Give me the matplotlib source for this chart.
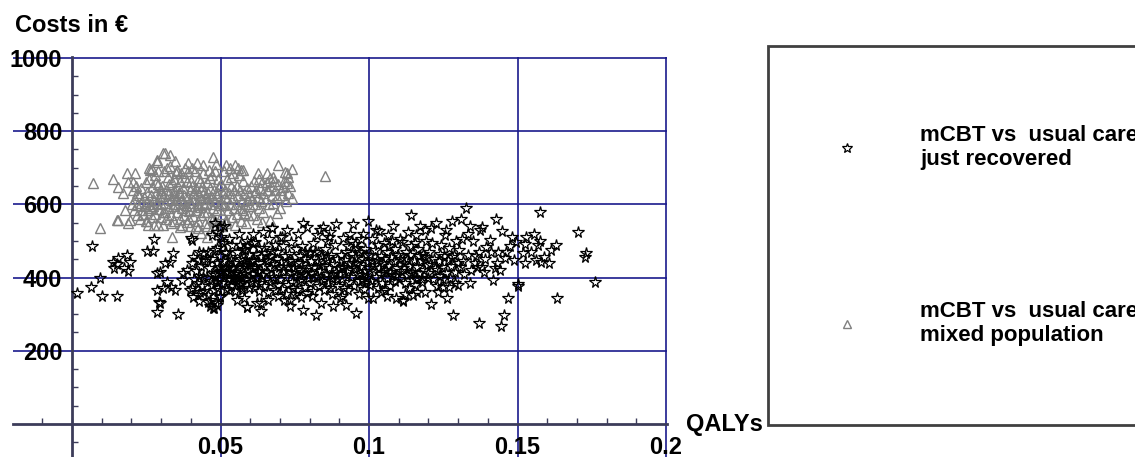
import matplotlib
matplotlib.use("Agg")
import matplotlib.pyplot as plt
from matplotlib.ticker import MultipleLocator, FixedLocator, FixedFormatter

plt.rcParams['font.family'] = ['Liberation Sans', 'DejaVu Sans']
plt.rcParams['font.weight'] = 'bold'

# ---------------- data (QALY in thousandths, cost in EUR) ----------------
recovered_points = [
    (1.6,359),(6.3,375),(6.6,487),(9.4,400),(10.2,350),(15.2,350),(13.9,442),(15.5,454),(18.5,462),
    (19.5,443),(17.5,426),(19.0,418),(14.0,426),(15.1,437),(25.1,473),(27.3,473),(27.7,505),(28.5,412),
    (28.6,366),(29.3,333),(28.6,306),(35.7,300),(29.6,331),(40.0,508),
    (29.6,416),(31.3,439),(33.0,443),(34.1,466),(31.9,389),(33.5,375),(34.7,366),(30.7,371),(36.9,393),
    (37.5,412),(38.6,421),(40.3,439),(40.8,457),(40.3,503),(45.3,453),(44.2,402),(42.0,384),(39.7,366),
    (43.1,361),(45.9,352),(47.0,380),(48.7,389),(47.5,412),(49.8,416),(48.7,439),(48.1,475),(47.0,516),
    (48.7,525),(50.9,494),(52.0,466),(52.0,416),(54.3,430),(53.7,393),(57.1,371),(56.0,402),(58.2,434),
    (58.2,475),(56.5,489),(61.6,498),(61.0,448),(62.1,402),(42.5,448),
    (40.5,372),(41.2,395),(41.8,418),(42.3,352),(42.9,405),(43.4,431),(43.8,378),(44.5,362),(44.9,445),
    (45.6,398),(45.8,470),(46.2,425),(46.6,340),(46.9,390),(47.3,452),(47.8,365),(48.1,408),(48.4,330),
    (48.9,482),(49.2,372),(49.5,428),(49.8,350),(49.9,460),(46.3,322),(47.9,318),(48.8,412),(49.4,395),
    (44.0,468),(42.6,470),(50.0,510),(47.5,316),(48.7,325),(49.8,348),(45.9,334),(42.8,337),(40.8,348),
    (50.3,418),(50.6,385),(50.8,445),(51.1,540),(51.3,402),(51.6,470),(51.9,368),(52.2,430),(52.4,395),
    (52.7,505),(53.0,412),(53.2,455),(53.5,378),(53.8,425),(54.0,488),(54.2,398),(54.6,440),(54.9,362),
    (55.1,415),(55.4,470),(55.7,392),(55.9,430),(56.2,518),(56.4,405),(56.8,452),(57.0,384),(57.3,425),
    (57.6,478),(57.8,345),(58.1,410),(58.4,448),(58.7,395),(58.9,500),(59.2,420),(59.5,372),(59.7,462),
    (59.9,435),(50.4,500),(52.9,365),(55.5,340),(57.2,398),(58.8,319),(51.7,425),(53.6,448),(54.7,410),
    (56.6,380),(59.0,485),(52.5,415),(55.0,395),(57.9,440),(58.8,320),(57.4,366),(49.8,539),(48.0,549),
    (60.2,388),(60.4,445),(60.7,410),(60.9,520),(61.2,372),(61.5,430),(61.8,465),(62.0,398),(62.3,331),
    (62.6,418),(62.9,482),(63.1,440),(63.4,385),(63.5,310),(63.8,455),(64.0,408),(64.3,525),(64.5,378),
    (64.8,432),(65.1,468),(65.3,395),(65.6,415),(65.9,360),(66.1,448),(66.4,505),(66.7,388),(67.0,425),
    (67.2,536),(67.5,472),(67.7,402),(68.0,438),(68.3,365),(68.5,490),(68.8,415),(69.0,452),(69.3,380),
    (69.6,428),(69.9,510),(61.0,495),(62.8,362),(64.6,480),(66.0,340),(67.9,395),(69.5,350),(60.5,425),
    (63.0,415),(65.5,445),(68.9,470),(61.7,385),(66.8,458),(63.5,331),
    (70.1,395),(70.4,442),(70.6,370),(70.9,485),(71.2,418),(71.5,338),(71.7,458),(72.0,402),(72.3,530),
    (72.6,428),(72.8,380),(73.1,465),(73.4,339),(73.6,412),(73.9,498),(74.2,445),(74.5,372),(74.7,425),
    (75.0,355),(75.3,478),(75.5,405),(75.8,440),(76.1,518),(76.3,390),(76.6,460),(76.9,422),(77.2,348),
    (77.5,485),(77.8,311),(77.8,549),(78.0,410),(78.3,452),(78.6,375),(79.0,357),(79.0,539),(79.3,430),
    (79.6,398),(79.9,468),(70.7,510),(72.2,355),(74.0,388),(75.6,365),(77.0,395),(78.8,420),(71.0,430),
    (73.0,445),(75.2,415),(76.8,440),(78.5,470),(73.3,322),(67.3,536),
    (80.2,385),(80.5,445),(80.7,412),(81.0,495),(81.3,362),(81.6,428),(81.9,470),(82.1,298),(82.4,405),
    (82.7,445),(83.0,378),(83.4,530),(83.6,418),(83.9,458),(84.2,392),(84.5,538),(84.7,432),(85.0,365),
    (85.3,478),(85.6,410),(85.9,448),(86.1,385),(86.4,512),(86.7,425),(87.0,372),(87.3,462),(87.6,400),
    (87.9,322),(88.2,438),(88.5,488),(88.8,415),(89.0,546),(89.3,450),(89.6,378),(89.9,425),(90.2,343),
    (80.8,350),(82.9,470),(84.0,330),(85.8,500),(87.5,355),(89.1,395),(81.5,402),(83.2,435),(86.2,455),
    (88.0,408),(86.9,525),(84.8,395),(82.5,515),(80.3,470),
    (90.3,410),(90.6,462),(90.8,395),(91.1,508),(91.4,428),(91.7,372),(92.0,448),(92.2,325),(92.5,415),
    (92.8,485),(93.1,388),(93.4,440),(93.7,520),(93.9,402),(94.2,465),(94.6,546),(94.8,425),(95.1,378),
    (95.4,492),(95.6,304),(95.9,438),(96.2,410),(96.5,470),(96.8,355),(97.0,430),(97.3,505),(97.6,395),
    (97.9,450),(98.2,368),(98.5,418),(98.8,478),(99.1,400),(99.4,442),(99.6,555),(99.7,343),(99.9,425),
    (91.0,350),(92.9,365),(94.0,500),(95.3,455),(96.6,390),(98.0,520),(93.0,420),(94.9,440),(97.5,408),
    (99.0,462),(90.9,430),(92.4,470),(96.0,480),(98.6,385),
    (100.2,418),(100.5,462),(100.8,390),(101.1,505),(101.4,343),(101.7,435),(102.0,475),(102.3,402),
    (102.6,448),(102.9,372),(103.2,425),(103.5,528),(103.8,410),(104.1,458),(104.4,385),(104.7,440),
    (105.0,495),(105.3,365),(105.6,420),(105.9,470),(106.2,398),(106.5,515),(106.8,432),(107.1,378),
    (107.4,455),(107.7,408),(108.0,540),(108.3,445),(108.6,392),(108.9,478),(109.2,343),(109.5,425),
    (109.8,462),(100.4,380),(102.5,530),(104.0,360),(106.0,350),(107.9,500),(101.0,445),(103.0,490),
    (105.2,452),(107.0,415),(109.0,405),(104.8,415),(106.7,485),
    (110.2,395),(110.5,452),(110.8,418),(111.1,498),(111.5,336),(111.8,440),(112.1,385),(112.4,470),
    (112.7,408),(113.0,525),(113.3,432),(113.6,372),(113.9,462),(114.3,571),(114.5,415),(114.8,352),
    (115.1,448),(115.4,495),(115.7,395),(116.0,430),(116.3,361),(116.6,478),(116.9,412),(117.2,540),
    (117.5,445),(117.8,388),(118.1,465),(118.4,420),(118.8,361),(119.1,500),(119.4,435),(119.7,398),
    (110.4,505),(112.0,355),(113.8,410),(115.5,380),(117.0,460),(118.9,530),(111.3,425),(114.0,485),
    (116.2,400),(119.0,455),(112.9,450),(115.9,515),(118.0,395),(111.5,339),(121.0,328),
    (120.0,412),(120.3,470),(120.6,438),(121.3,495),(121.6,395),(121.9,452),(122.3,425),(122.6,548),
    (122.9,378),(123.3,361),(123.6,445),(123.9,405),(124.2,488),(124.6,430),(124.9,375),(125.2,460),
    (125.6,515),(125.9,412),(126.3,343),(126.6,448),(127.0,480),(127.3,398),(127.7,432),(128.0,555),
    (128.3,298),(128.6,462),(129.0,415),(129.4,500),(129.8,440),(120.8,535),(123.0,420),(125.0,395),
    (126.8,375),(128.8,385),(124.0,465),(126.0,530),(127.9,455),
    (130.0,380),(130.4,475),(130.8,430),(131.3,505),(131.8,445),(132.6,589),(133.2,462),(133.9,384),
    (134.5,420),(135.0,500),(135.6,440),(136.2,430),(136.9,470),(137.0,277),(137.5,530),(137.9,430),
    (138.2,539),(138.8,415),(139.5,484),(132.0,410),(134.0,540),(136.0,460),(139.0,450),(131.0,560),
    (133.5,520),
    (140.6,503),(141.8,393),(142.7,559),(143.4,471),(144.0,421),(144.6,269),(144.9,528),(145.5,298),
    (145.7,453),(146.2,471),(146.8,343),(148.8,448),(149.6,498),(150.0,382),(150.0,377),(143.0,440),
    (147.5,485),(141.0,470),(148.0,510),(142.5,425),
    (151.9,466),(152.4,439),(152.4,492),(153.0,512),(156.3,448),(156.9,489),(157.5,501),(157.7,580),
    (158.0,443),(160.6,439),(161.4,475),(163.1,489),(163.4,343),(170.4,524),(172.6,456),(173.0,468),
    (176.0,389),(154.5,470),(159.0,455),(155.5,520),
]

mixed_points = [
    (7.1,658),(9.4,536),(13.9,669),(85.1,678),(33.7,511),(15.5,648),(17.3,630),(15.5,557),(17.8,585),
    (18.4,685),(21.2,685),(19.0,662),(20.6,662),(19.5,557),(21.8,571),(23.5,585),(21.8,630),(26.2,694),
    (28.5,717),(31.3,740),(33.0,735),(34.7,719),(39.1,712),(42.0,712),(44.2,708),(47.5,730),(52.0,708),
    (54.8,708),(57.6,694),(62.7,685),(65.5,685),(35.2,694),(26.8,698),(15.0,557),(19.0,548),(25.7,544),
    (29.0,544),(36.3,539),(39.7,541),(42.5,535),(43.6,521),(45.3,512),(28.6,721),(30.7,740),(69.4,708),
    (74.0,696),(71.7,689),(72.3,686),(67.7,675),(72.3,658),(71.0,648),(72.7,631),(74.0,617),(65.6,639),
    (61.6,634),(70.0,590),(69.0,576),(66.6,557),(64.3,579),(63.9,552),(58.0,576),
    (20.2,600),(20.5,640),(20.9,585),(21.3,615),(21.6,650),(22.0,598),(22.4,625),(22.8,560),(23.1,605),
    (23.4,645),(23.8,575),(24.1,620),(24.5,595),(24.8,660),(24.9,555),
    (25.1,610),(25.4,635),(25.6,585),(25.9,670),(26.2,600),(26.5,625),(26.8,565),(27.0,648),(27.3,595),
    (27.6,612),(27.8,680),(28.1,575),(28.4,630),(28.7,605),(29.0,655),(29.2,588),(29.5,620),(29.8,640),
    (29.9,565),(25.3,555),(26.0,700),(27.5,545),(28.9,690),(26.7,590),(28.2,660),
    (30.1,600),(30.3,650),(30.6,578),(30.8,622),(31.0,690),(31.3,605),(31.5,640),(31.8,560),(32.0,615),
    (32.3,675),(32.5,590),(32.8,632),(33.0,705),(33.2,570),(33.5,612),(33.7,660),(34.0,595),(34.2,640),
    (34.5,555),(34.7,625),(34.9,685),(30.5,545),(31.9,700),(33.4,548),(34.4,668),(30.0,630),(31.2,580),
    (32.7,655),(33.9,625),(34.8,600),
    (35.1,615),(35.3,578),(35.6,650),(35.8,600),(36.1,630),(36.3,560),(36.6,685),(36.8,612),(37.1,590),
    (37.3,645),(37.6,570),(37.8,625),(38.1,700),(38.3,598),(38.6,660),(38.8,552),(39.1,620),(39.3,582),
    (39.6,640),(39.8,605),(35.5,690),(36.9,545),(38.0,675),(39.4,560),(35.9,635),(37.4,605),(38.9,690),
    (36.4,665),(37.9,585),(39.9,665),
    (40.1,595),(40.3,650),(40.6,612),(40.8,568),(41.1,630),(41.3,690),(41.6,585),(41.8,645),(42.1,605),
    (42.3,555),(42.6,625),(42.8,672),(43.1,592),(43.3,640),(43.6,570),(43.8,615),(44.1,685),(44.3,600),
    (44.6,635),(44.8,548),(40.5,700),(41.9,540),(43.0,660),(44.4,580),(40.9,630),(42.4,598),(43.9,650),
    (44.9,620),
    (45.1,605),(45.3,660),(45.6,580),(45.8,630),(46.1,695),(46.3,600),(46.6,645),(46.8,562),(47.1,620),
    (47.3,680),(47.6,590),(47.8,640),(48.1,555),(48.3,610),(48.6,710),(48.8,585),(49.1,630),(49.3,670),
    (49.6,598),(49.8,545),(45.5,540),(46.9,530),(48.0,690),(49.5,650),(45.9,615),(47.4,560),(48.9,625),
    (46.4,672),
    (50.1,605),(50.3,655),(50.6,575),(50.8,630),(51.1,690),(51.3,598),(51.6,640),(51.8,558),(52.1,615),
    (52.3,670),(52.6,585),(52.8,632),(53.1,700),(53.3,600),(53.6,650),(53.8,565),(54.1,620),(54.3,685),
    (54.6,590),(54.8,545),(50.5,540),(52.0,550),(53.4,675),(54.4,640),(51.4,620),
    (55.1,600),(55.4,650),(55.6,575),(55.9,625),(56.2,680),(56.4,590),(56.7,638),(56.9,555),(57.2,610),
    (57.5,665),(57.7,585),(58.0,630),(58.3,600),(58.5,550),(58.8,645),(59.1,612),(59.4,570),(59.7,625),
    (55.8,700),(57.0,695),
    (60.1,595),(60.4,650),(60.7,615),(61.0,570),(61.3,665),(61.6,600),(61.9,640),(62.2,560),(62.5,620),
    (62.8,670),(63.1,590),(63.4,645),(63.7,610),(64.0,660),(64.4,630),
    (65.2,615),(65.5,660),(65.9,640),(66.2,600),(66.5,672),(66.9,650),(67.3,625),(67.7,605),(68.1,665),
    (68.5,640),(68.9,620),(69.4,655),
    (70.3,640),(70.8,625),(71.3,665),(72.0,610),(72.8,675),(73.5,650),
]

series_labels = ["mCBT vs  usual care\njust recovered", "mCBT vs  usual care\nmixed population"]
x_tick_values = [0.05, 0.1, 0.15, 0.2]
x_tick_labels = ["0.05", "0.1", "0.15", "0.2"]
y_tick_values = [200, 400, 600, 800, 1000]
y_tick_labels = ["200", "400", "600", "800", "1000"]
y_title = "Costs in €"
x_title = "QALYs"

# ---------------- figure ----------------
W, H = 1135, 457
fig = plt.figure(figsize=(W / 100, H / 100), dpi=100)

xlo, xhi = -0.0199, 0.2005
ylo, yhi = -90.2, 1003
px_per_x = 2970.0
px_per_y = 0.366
ax_left_px = 72 + xlo * px_per_x
ax_w_px = (xhi - xlo) * px_per_x
ax_h_px = (yhi - ylo) * px_per_y
ax = fig.add_axes([ax_left_px / W, 0, ax_w_px / W, ax_h_px / H])
ax.set_xlim(xlo, xhi)
ax.set_ylim(ylo, yhi)

axis_col = "#3c3c5a"
grid_col = "#1a1a8c"
fs = 17

for s in ("top", "right"):
    ax.spines[s].set_visible(False)
ax.spines["left"].set_position(("data", 0))
ax.spines["bottom"].set_position(("data", 0))
for s in ("left", "bottom"):
    ax.spines[s].set_color(axis_col)
    ax.spines[s].set_linewidth(2)
    ax.spines[s].set_zorder(1.5)

ax.xaxis.set_major_locator(FixedLocator(x_tick_values))
ax.xaxis.set_major_formatter(FixedFormatter(x_tick_labels))
ax.yaxis.set_major_locator(FixedLocator(y_tick_values))
ax.yaxis.set_major_formatter(FixedFormatter(y_tick_labels))
ax.xaxis.set_minor_locator(MultipleLocator(0.01))
ax.yaxis.set_minor_locator(MultipleLocator(50))
ax.tick_params(which="major", length=0, labelsize=fs, labelcolor="black")
ax.tick_params(axis="x", which="major", pad=8.5)
ax.tick_params(axis="y", which="major", pad=7)
ax.tick_params(which="minor", direction="in", length=4, width=1, color=axis_col)
for lab in ax.get_xticklabels() + ax.get_yticklabels():
    lab.set_fontweight("bold")

ax.grid(which="major", color=grid_col, linewidth=1.2, zorder=1)
ax.set_axisbelow(True)

rx = [p[0] / 1000 for p in recovered_points]
ry = [p[1] for p in recovered_points]
mx = [p[0] / 1000 for p in mixed_points]
my = [p[1] for p in mixed_points]

h_mixed, = ax.plot(mx, my, linestyle="none", marker="^", ms=7, mfc="none",
                   mec="#808080", mew=1.0, zorder=3, label=series_labels[1])
h_rec, = ax.plot(rx, ry, linestyle="none", marker="*", ms=8.5, mfc="none",
                 mec="black", mew=0.9, zorder=4, label=series_labels[0])

fig.text(15 / W, 1 - 25 / H, y_title, fontsize=fs, fontweight="bold",
         ha="left", va="center")
fig.text(686 / W, 1 - 424 / H, x_title, fontsize=fs, fontweight="bold",
         ha="left", va="center")

fs_leg = 16
leg = fig.legend([h_rec, h_mixed], [series_labels[0], series_labels[1]],
                 loc="upper left", bbox_to_anchor=(768 / W, 1 - 46 / H),
                 bbox_transform=fig.transFigure, borderaxespad=0,
                 prop={"size": fs_leg, "weight": "bold"},
                 frameon=True, fancybox=False, shadow=False, framealpha=1,
                 edgecolor="#404040", borderpad=3.55, labelspacing=5.9,
                 handlelength=0.0, handletextpad=3.3, numpoints=1,
                 markerscale=0.85)
leg.get_frame().set_linewidth(2)

fig.savefig("out.png", dpi=100)
